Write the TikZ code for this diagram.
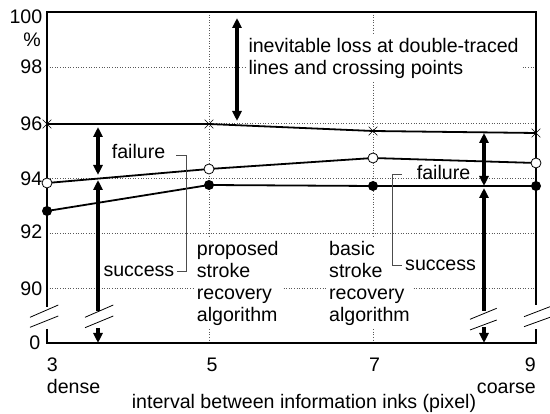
\documentclass[tikz,border=0pt]{standalone}
\usepackage{fontspec}
\setmainfont{Liberation Sans}
\usetikzlibrary{arrows.meta,shapes.misc}
\begin{document}
\begin{tikzpicture}[x=1pt,y=-1pt,
  every node/.style={font=\fontsize{19.6}{22}\selectfont, inner sep=0pt},
  gridline/.style={black!65, line width=0.7pt, dash pattern=on 1pt off 1.6pt},
  frame/.style={line width=1.3pt},
  dataline/.style={line width=1.8pt},
  opendot/.style={circle, draw, fill=white, line width=0.8pt, minimum size=10pt},
  filldot/.style={circle, fill=black, minimum size=10pt},
  xmark/.style={cross out, draw, line width=0.7pt, minimum size=8pt},
  bigarrow/.style={line width=3.3pt, -{Triangle[length=10pt,width=9pt]}},
  bigdouble/.style={line width=3.3pt, {Triangle[length=10pt,width=9pt]}-{Triangle[length=10pt,width=9pt]}},
  brk/.style={line width=0.8pt},
  leader/.style={line width=0.9pt, draw=black!70},
  textbox/.style={fill=white, inner sep=3pt, align=left}
]
\useasboundingbox (0,0) rectangle (550,414);
\fill[white] (0,0) rectangle (550,414);

% grid
\foreach \yy in {67.5,123.5,178,233,288} \draw[gridline] (47,\yy) -- (536,\yy);
\foreach \xx in {209,373} \draw[gridline] (\xx,12) -- (\xx,343);

% frame
\draw[frame] (47,307) -- (47,12) -- (536,12) -- (536,305);
\draw[frame] (47,329) -- (47,343) -- (536,343) -- (536,329);

% axis breaks
\draw[brk] (30,317.3) -- (58.3,305) (30,327.3) -- (58.3,316);
\draw[brk] (524,316.7) -- (550,306.7) (524,326.7) -- (550,317.3);
\draw[brk] (85,317.3) -- (113.3,305) (85,327.7) -- (113.3,316);
\draw[brk] (470,319.3) -- (496.7,308.3) (470,330) -- (496.7,320);

% data points
\coordinate (a1) at (47,124); \coordinate (a2) at (209,124);
\coordinate (a3) at (373,131); \coordinate (a4) at (536,133);
\coordinate (b1) at (47,183); \coordinate (b2) at (209,169);
\coordinate (b3) at (373,158); \coordinate (b4) at (536,163);
\coordinate (c1) at (47,211); \coordinate (c2) at (209,185);
\coordinate (c3) at (373,186); \coordinate (c4) at (536,186);

\draw[dataline] (a1) -- (a2) -- (a3) -- (a4);
\draw[dataline] (b1) -- (b2) -- (b3) -- (b4);
\draw[dataline] (c1) -- (c2) -- (c3) -- (c4);
\foreach \p in {1,2,3,4} {
  \node[xmark] (ma\p) at (a\p) {};
  \node[opendot] (mb\p) at (b\p) {};
  \node[filldot] (mc\p) at (c\p) {};
}

% arrows
\coordinate (t1) at (237,18); \coordinate (t2) at (237,121);
\draw[bigdouble] (t1) -- (t2);
\coordinate (l1) at (98,127); \coordinate (l2) at (98,175);
\coordinate (l3) at (98,180); \coordinate (l4) at (98,311);
\coordinate (l5) at (98,328); \coordinate (l6) at (98,343);
\draw[bigdouble] (l1) -- (l2);
\draw[bigarrow] (l4) -- (l3);
\draw[bigarrow] (l5) -- (l6);
\coordinate (r1) at (484,133); \coordinate (r2) at (484,186);
\coordinate (r3) at (484,188); \coordinate (r4) at (484,311);
\coordinate (r5) at (484,327); \coordinate (r6) at (484,343);
\draw[bigdouble] (r1) -- (r2);
\draw[bigarrow] (r4) -- (r3);
\draw[bigarrow] (r5) -- (r6);

% axis labels
\node[anchor=east] (y100) at (42.5,16.7) {100};
\node (ypct) at (32,40) {\%};
\node[anchor=east] (y98) at (42.5,67) {98};
\node[anchor=east] (y96) at (42.5,123.7) {96};
\node[anchor=east] (y94) at (42.5,178.3) {94};
\node[anchor=east] (y92) at (42.5,231.7) {92};
\node[anchor=east] (y90) at (42.5,288.3) {90};
\node[anchor=east] (y0) at (40.5,343) {0};

\node[anchor=base west] (x3) at (46.7,371.7) {3};
\node[anchor=base] (x5) at (212,371.7) {5};
\node[anchor=base] (x7) at (374.5,371.7) {7};
\node[anchor=base east] (x9) at (536,371.7) {9};
\node[anchor=base west] (dense) at (46.7,393.3) {dense};
\node[anchor=base east] (coarse) at (536,393.3) {coarse};
\node[anchor=base] (xtitle) at (304,409) {interval between information inks (pixel)};

% annotations
\node[textbox, anchor=north west] (loss) at (245.3,34.8) {inevitable loss at double-traced\\lines and crossing points};
\node[textbox, anchor=north west] (prop) at (193.7,238) {proposed\\stroke\\recovery\\algorithm};
\node[textbox, anchor=north west] (basic) at (326,238) {basic\\stroke\\recovery\\algorithm};

\node[anchor=base west] (failL) at (111.7,159) {failure};
\node[anchor=base west] (succL) at (103.3,276.7) {success};
\node[anchor=base west] (failR) at (416.7,180) {failure};
\node[anchor=base west] (succR) at (405,271) {success};

\draw[leader] ([xshift=11pt,yshift=-3pt]failL.east) -- ++(10,0) |- ([xshift=2pt]succL.east);
\draw[leader] ([xshift=-15pt,yshift=-1pt]failR.west) -- ++(-9.5,0) |- ([xshift=-3pt]succR.west);
\end{tikzpicture}
\end{document}
